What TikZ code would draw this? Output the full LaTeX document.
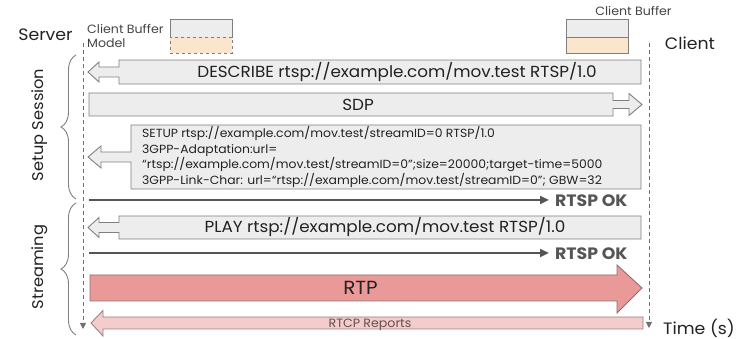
\documentclass[tikz,border=0pt]{standalone}
\usepackage{fontspec}
\setmainfont{Poppins}[FakeStretch=1.05]
\usetikzlibrary{arrows.meta,decorations.pathreplacing,calc}

\definecolor{boxgray}{HTML}{EDEDED}
\definecolor{edgegray}{HTML}{7F7F7F}
\definecolor{rtpred}{HTML}{EA9999}
\definecolor{rtpedge}{HTML}{8C6F6F}
\definecolor{rtcppink}{HTML}{F4CCCC}
\definecolor{rtcpedge}{HTML}{A07F7F}
\definecolor{bufferorange}{HTML}{FCE5CD}
\definecolor{inkdark}{HTML}{222222}
\definecolor{lifeline}{HTML}{707070}
\definecolor{okline}{HTML}{555555}

\begin{document}
\begin{tikzpicture}[x=1pt,y=-1pt,
  anchorbox/.style={inner sep=0pt, outer sep=0pt},
  outline/.style={draw=edgegray, fill=boxgray, line width=0.9pt, line join=miter},
  rtpoutline/.style={draw=rtpedge, fill=rtpred, line width=0.9pt},
  rtcpoutline/.style={draw=rtcpedge, fill=rtcppink, line width=0.9pt},
  msgtext/.style={inner sep=0pt, text=inkdark, font=\fontsize{16}{18}\selectfont},
  setuptext/.style={inner sep=0pt, text=inkdark, align=left, font=\fontsize{11.8}{15.5}\selectfont},
  oktext/.style={inner sep=0pt, text=okline, font=\fontsize{16.5}{19}\selectfont\bfseries},
  okarrow/.style={draw=okline, line width=2.6pt, -{Triangle[length=9pt,width=8pt]}, shorten >=6pt},
  lifelinestyle/.style={draw=lifeline, line width=0.9pt, dash pattern=on 4pt off 3pt, -{Triangle[length=6pt,width=6pt]}},
  bufbox/.style={inner sep=0pt, outer sep=0pt, minimum width=62pt, draw=edgegray, line width=0.8pt},
  smalltext/.style={inner sep=0pt, text=inkdark!85, font=\fontsize{12}{14}\selectfont},
  bigtext/.style={inner sep=0pt, text=inkdark, font=\fontsize{16.5}{19}\selectfont},
  rtplabel/.style={inner sep=0pt, text=inkdark, font=\fontsize{19}{22}\selectfont},
  phasebrace/.style={draw=edgegray, line width=0.9pt, decorate, decoration={brace, amplitude=15pt}},
  phasetext/.style={inner sep=0pt, text=inkdark, rotate=90, font=\fontsize{15.5}{18}\selectfont}
]
\useasboundingbox (0,0) rectangle (740,339);

% ---- endpoints and their buffers ----
\node[bigtext] (server) at (45.5,35) {Server};
\node[bigtext] (client) at (690,43) {Client};
\node[bigtext] (timelabel) at (699,328) {Time (s)};

\node[smalltext, align=left, anchor=west] (modellabel) at (87,36) {Client Buffer\\Model};
\node[bufbox, fill=boxgray, minimum height=18pt] (srvbufA) at (201,28) {};
\node[bufbox, fill=bufferorange, dashed, minimum height=16pt] (srvbufB) at (201,45) {};

\node[smalltext] (clientbuflabel) at (633.5,11) {Client Buffer};
\node[bufbox, fill=boxgray, minimum height=18pt] (clibufA) at (597.5,28) {};
\node[bufbox, fill=bufferorange, minimum height=16pt] (clibufB) at (597.5,45) {};

% ---- time lines ----
\coordinate (srvtop) at (83,43);
\coordinate (srvbot) at (83,329);
\coordinate (clitop) at (649,43);
\coordinate (clibot) at (649,328);
\draw[lifelinestyle] (srvtop) -- (srvbot);
\draw[lifelinestyle] (clitop) -- (clibot);

% ---- phases ----
\coordinate (setupbot) at (76,199);
\coordinate (setuptop) at (76,55);
\coordinate (streambot) at (76,335);
\coordinate (streamtop) at (76,203);
\draw[phasebrace] (setupbot) -- (setuptop);
\draw[phasebrace] (streambot) -- (streamtop);
\node[phasetext] (setuplabel) at (40,125) {Setup Session};
\node[phasetext] (streamlabel) at (40,267) {Streaming};

% ---- DESCRIBE (client -> server) ----
\node[anchorbox, minimum width=522pt, minimum height=24pt] (describe) at (380,72) {};
\draw[outline] (describe.north west) -- (describe.north east) -- (describe.south east)
  -- (describe.south west) -- ($(describe.west)+(0,5)$) -- ++(-20,0) -- ++(0,5)
  -- ++(-11,-10) -- ++(11,-10) -- ++(0,5) -- ++(20,0) -- cycle;
\node[msgtext] (describetext) at ($(describe.center)+(17,0)$) {DESCRIBE rtsp://example.com/mov.test RTSP/1.0};

% ---- SDP (server -> client) ----
\node[anchorbox, minimum width=524pt, minimum height=23pt] (sdp) at (351,104.5) {};
\draw[outline] (sdp.south east) -- (sdp.south west) -- (sdp.north west) -- (sdp.north east)
  -- ($(sdp.east)+(0,-4)$) -- ++(16,0) -- ++(0,-7)
  -- ++(13,11) -- ++(-13,11) -- ++(0,-7) -- ++(-16,0) -- cycle;
\node[msgtext] (sdptext) at ($(sdp.center)+(7,0)$) {SDP};

% ---- SETUP (client -> server) ----
\node[anchorbox, minimum width=510pt, minimum height=64pt] (setup) at (386,157) {};
\draw[outline] (setup.north west) -- (setup.north east) -- (setup.south east)
  -- (setup.south west) -- ($(setup.west)+(0,5)$) -- ++(-30,0) -- ++(0,6)
  -- ++(-13,-11) -- ++(13,-11) -- ++(0,6) -- ++(30,0) -- cycle;
\node[setuptext, anchor=west] (setuptext) at (142,157)
  {SETUP rtsp://example.com/mov.test/streamID=0 RTSP/1.0\\
   3GPP-Adaptation:url=\\
   “rtsp://example.com/mov.test/streamID=0”;size=20000;target-time=5000\\
   3GPP-Link-Char: url=“rtsp://example.com/mov.test/streamID=0”; GBW=32};

% ---- RTSP OK after SETUP ----
\coordinate (ok1start) at (89,200);
\node[oktext, anchor=west] (ok1) at (555,201) {RTSP OK};
\draw[okarrow] (ok1start) -- (ok1.west |- ok1start);

% ---- PLAY (client -> server) ----
\node[anchorbox, minimum width=522pt, minimum height=23pt] (play) at (380,227.5) {};
\draw[outline] (play.north west) -- (play.north east) -- (play.south east)
  -- (play.south west) -- ($(play.west)+(0,5)$) -- ++(-20,0) -- ++(0,5)
  -- ++(-11,-10) -- ++(11,-10) -- ++(0,5) -- ++(20,0) -- cycle;
\node[msgtext] (playtext) at ($(play.center)+(5,0)$) {PLAY rtsp://example.com/mov.test RTSP/1.0};

% ---- RTSP OK after PLAY ----
\coordinate (ok2start) at (89,253);
\node[oktext, anchor=west] (ok2) at (555,254) {RTSP OK};
\draw[okarrow] (ok2start) -- (ok2.west |- ok2start);

% ---- RTP media stream (server -> client) ----
\node[anchorbox, minimum width=527pt, minimum height=26pt] (rtp) at (353.5,288) {};
\draw[rtpoutline] (rtp.south east) -- (rtp.south west) -- (rtp.north west) -- (rtp.north east)
  -- ++(0,-10) -- ($(rtp.east)+(25,0)$) -- ++(-25,25) -- (rtp.south east) -- cycle;
\node[rtplabel] (rtptext) at ($(rtp.center)+(7,0)$) {RTP};

% ---- RTCP reports (client -> server) ----
\node[anchorbox, minimum width=540pt, minimum height=12pt] (rtcp) at (373,323) {};
\draw[rtcpoutline] (rtcp.north west) -- (rtcp.north east) -- (rtcp.south east) -- (rtcp.south west)
  -- ++(0,7) -- ($(rtcp.west)+(-12,0)$) -- ++(12,-12.5) -- (rtcp.north west) -- cycle;
\node[inner sep=0pt, text=rtpedge!70!black, font=\fontsize{12}{14}\selectfont] (rtcptext) at ($(rtcp.center)+(-3,1.5)$) {RTCP Reports};
\end{tikzpicture}
\end{document}
